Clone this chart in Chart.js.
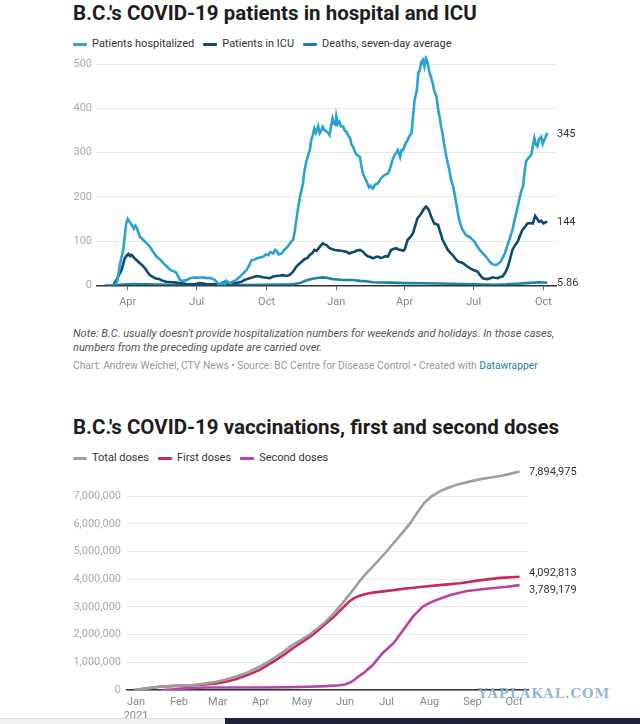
<!DOCTYPE html>
<html>
<head>
<meta charset="utf-8">
<script src="https://cdn.jsdelivr.net/npm/chart.js@4.4.0/dist/chart.umd.min.js"></script>
<style>
  body { margin: 0; background: #fff; font-family: Roboto, sans-serif; }
  #page { position: relative; width: 640px; height: 724px; overflow: hidden; background: #fff; }
  .title { position: absolute; left: 73px; font-weight: 700; font-size: 20.5px; line-height: 24px; color: #1d1d1d; white-space: nowrap; }
  .legend { position: absolute; left: 73px; display: flex; align-items: center; font-size: 11px; line-height: 14px; color: #333; white-space: nowrap; }
  .legend .item { display: flex; align-items: center; margin-right: 9px; }
  .legend i { display: inline-block; width: 14px; height: 3px; margin-right: 5px; border-radius: 1px; }
  canvas { position: absolute; left: 0; }
  .note { position: absolute; left: 73px; top: 327px; font-size: 11px; letter-spacing: 0.01px; line-height: 14px; font-style: italic; color: #555; white-space: nowrap; }
  .credit { position: absolute; left: 73px; top: 359px; font-size: 10.3px; line-height: 14px; color: #999; white-space: nowrap; }
  .credit span { color: #1d81a2; }
  .wm { position: absolute; left: 478px; top: 685px; font-family: "DejaVu Serif", serif; font-weight: 700; font-size: 13.5px; letter-spacing: 0.8px; color: rgba(140,175,205,0.9); }
  .bar-grey { position: absolute; left: 0; top: 718px; width: 225px; height: 6px; background: #f0f0f0; border-top: 1px solid #dcdcdc; }
  .bar-navy { position: absolute; left: 225px; top: 718px; width: 415px; height: 7px; background: #1c2237; }
</style>
</head>
<body>
<div id="page">
  <div class="title" style="top:1px">B.C.'s COVID-19 patients in hospital and ICU</div>
  <div class="legend" id="legend1" style="top:37px"></div>
  <canvas id="hospChart" width="640" height="270" style="top:50px"></canvas>
  <div class="note">Note: B.C. usually doesn't provide hospitalization numbers for weekends and holidays. In those cases,<br>numbers from the preceding update are carried over.</div>
  <div class="credit">Chart: Andrew Weichel, CTV News • Source: BC Centre for Disease Control • Created with <span>Datawrapper</span></div>

  <div class="title" style="top:415px">B.C.'s COVID-19 vaccinations, first and second doses</div>
  <div class="legend" id="legend2" style="top:451px"></div>
  <canvas id="vaxChart" width="640" height="262" style="top:462px"></canvas>
  <div class="wm">YAPLAKAL.COM</div>
  <div class="bar-grey"></div>
  <div class="bar-navy"></div>
</div>
<script>
// chart 1: days counted from 2020-03-01
const hospTickDays = [31, 122, 214, 306, 396, 487, 579];
const hospTickLabels = ['Apr', 'Jul', 'Oct', 'Jan', 'Apr', 'Jul', 'Oct'];
const hospYTicks = [0, 100, 200, 300, 400, 500];

const hospitalized = [[1,0],[14,0],[17,8],[21,50],[25,80],[29,140],[31,150],[34,142],[36,137],[39,128],[41,135],[43,130],[47,110],[52,102],[56,95],[59,90],[63,80],[66,72],[69,65],[74,58],[78,50],[83,42],[87,35],[91,32],[95,29],[98,18],[100,12],[104,10],[109,12],[113,16],[117,17],[122,18],[126,17],[131,18],[135,16],[139,17],[142,15],[146,12],[148,8],[152,1],[155,4],[157,5],[159,2],[161,10],[164,6],[166,5],[170,9],[174,12],[178,18],[181,23],[185,30],[188,35],[191,45],[194,57],[198,58],[201,61],[205,63],[210,65],[213,70],[216,68],[219,75],[223,72],[225,80],[227,78],[230,70],[234,72],[237,80],[240,84],[243,90],[245,95],[247,100],[249,103],[251,120],[253,144],[256,180],[258,200],[260,215],[262,231],[264,260],[267,284],[269,296],[271,306],[273,329],[275,340],[277,355],[279,345],[282,360],[284,344],[286,350],[288,359],[290,352],[293,348],[295,345],[297,340],[299,360],[301,378],[303,365],[305,363],[306,382],[308,365],[310,370],[312,360],[315,359],[317,350],[319,348],[322,338],[324,333],[326,318],[328,314],[331,300],[333,295],[337,291],[339,270],[341,253],[343,245],[346,235],[349,222],[351,225],[354,219],[357,228],[361,231],[364,240],[367,246],[370,250],[374,253],[377,265],[380,284],[383,295],[385,300],[387,306],[390,290],[392,306],[394,306],[397,320],[400,329],[403,340],[405,344],[407,380],[409,419],[412,440],[414,480],[416,487],[418,505],[420,510],[422,495],[424,514],[426,505],[429,480],[431,470],[433,457],[435,440],[438,427],[440,400],[442,382],[444,360],[446,344],[448,320],[451,291],[453,275],[455,261],[457,240],[460,223],[462,205],[464,186],[466,165],[468,148],[471,130],[475,118],[478,112],[481,110],[485,104],[488,99],[491,90],[495,80],[499,72],[503,65],[507,56],[510,50],[513,47],[517,46],[520,50],[523,54],[525,62],[528,72],[531,88],[534,103],[538,125],[541,148],[544,170],[547,193],[550,215],[552,223],[554,255],[556,280],[559,288],[563,295],[565,315],[567,333],[569,318],[571,314],[573,330],[576,336],[578,320],[580,329],[582,336],[584,345]];

const icu = [[1,0],[12,0],[16,12],[23,35],[27,61],[30,68],[32,71],[34,66],[36,69],[40,61],[44,55],[47,50],[51,44],[54,38],[57,30],[60,23],[64,19],[67,16],[73,14],[77,10],[82,8],[91,7],[100,5],[109,3],[117,2],[126,5],[135,3],[144,2],[152,2],[156,6],[159,8],[163,4],[166,5],[174,5],[178,7],[181,8],[185,12],[188,14],[194,17],[201,21],[205,20],[209,18],[214,17],[218,16],[223,20],[227,21],[232,22],[236,23],[240,21],[244,23],[247,27],[249,31],[253,42],[258,50],[264,59],[268,62],[271,69],[274,72],[277,80],[280,78],[284,87],[288,95],[291,92],[293,91],[297,84],[300,82],[304,80],[308,79],[312,78],[316,77],[319,76],[323,72],[326,74],[330,76],[333,79],[337,80],[341,76],[344,70],[348,65],[351,64],[354,61],[358,64],[361,65],[364,62],[367,63],[371,66],[374,65],[378,80],[381,82],[385,84],[388,81],[391,80],[394,78],[396,81],[400,103],[404,110],[407,118],[410,135],[413,152],[416,158],[418,163],[421,172],[424,178],[426,175],[428,170],[431,155],[435,140],[438,138],[440,137],[443,120],[446,103],[450,90],[453,80],[456,74],[459,69],[463,60],[466,54],[470,52],[473,50],[476,46],[479,42],[483,38],[486,35],[489,33],[492,31],[496,22],[499,16],[502,15],[505,14],[509,16],[512,18],[515,17],[519,16],[522,19],[525,20],[529,30],[532,42],[535,60],[538,80],[542,92],[545,99],[548,112],[551,125],[555,133],[558,140],[562,141],[565,140],[568,157],[571,150],[573,144],[576,146],[579,140],[581,142],[584,144]];

const deaths = [[1,0],[14,0],[18,0.5],[24,1.5],[30,2.5],[40,3],[56,2],[70,1.5],[87,1],[110,0.5],[150,0.5],[180,0.7],[210,1],[230,1.5],[245,2],[249,2.5],[258,5],[266,11],[275,15],[283,17],[288,18],[293,17],[301,14],[308,13],[315,12],[328,12],[337,10],[345,9],[354,7],[376,6],[398,5],[420,4.5],[442,4],[470,3],[486,2],[500,1.5],[516,1.2],[530,2],[545,3.5],[556,5],[566,6],[573,7],[580,6.5],[584,5.86]];

// chart 2: days counted from 2021-01-01
const vaxTickDays = [0, 31, 59, 90, 120, 151, 181, 212, 243, 273];
const vaxTickLabels = [['Jan', '2021'], 'Feb', 'Mar', 'Apr', 'May', 'Jun', 'Jul', 'Aug', 'Sep', 'Oct'];
const vaxYTicks = [0, 1000000, 2000000, 3000000, 4000000, 5000000, 6000000, 7000000];

const totalDoses = [[-1,0],[8,60000],[17,120000],[28,150000],[41,180000],[50,230000],[58,300000],[65,380000],[72,480000],[80,620000],[89,840000],[95,1000000],[101,1200000],[107,1400000],[113,1630000],[119,1800000],[125,1990000],[131,2220000],[137,2470000],[143,2780000],[149,3130000],[155,3500000],[161,3900000],[166,4200000],[171,4460000],[180,4950000],[188,5420000],[193,5720000],[198,6020000],[203,6400000],[208,6750000],[213,6980000],[219,7170000],[225,7300000],[231,7410000],[240,7520000],[248,7610000],[255,7670000],[263,7730000],[270,7810000],[277,7894975]];

const firstDoses = [[-1,0],[8,60000],[17,120000],[28,150000],[41,170000],[50,200000],[58,240000],[65,300000],[72,390000],[80,530000],[89,720000],[95,900000],[101,1080000],[107,1280000],[113,1500000],[119,1700000],[125,1900000],[131,2130000],[137,2390000],[143,2650000],[149,2950000],[154,3200000],[157,3300000],[161,3400000],[166,3470000],[171,3520000],[183,3590000],[195,3670000],[207,3730000],[219,3790000],[234,3860000],[248,3960000],[263,4050000],[277,4092813]];

const secondDoses = [[19,0],[25,20000],[35,60000],[45,80000],[53,90000],[70,90000],[89,90000],[110,100000],[125,120000],[137,140000],[147,170000],[151,200000],[155,280000],[158,380000],[161,500000],[164,600000],[171,900000],[178,1330000],[186,1690000],[193,2170000],[200,2650000],[207,3010000],[212,3150000],[217,3250000],[227,3430000],[239,3580000],[253,3660000],[268,3730000],[277,3789179]];

Chart.defaults.font.family = 'Roboto, sans-serif';
Chart.defaults.font.size = 11;
Chart.defaults.animation = false;

const toPoints = arr => arr.map(([x, y]) => ({ x: x, y: y }));

// value labels at the end of each line, pushed apart when they collide
const endLabels = {
    id: 'endLabels',
    afterDatasetsDraw(chart, args, opts) {
        const { ctx, chartArea } = chart;
        const items = chart.data.datasets.map(ds => {
            const last = ds.data[ds.data.length - 1];
            return { y: chart.scales.y.getPixelForValue(last.y), text: last.y.toLocaleString('en-US') };
        }).sort((a, b) => a.y - b.y);
        for (let k = 0; k < 5; k++) {
            for (let i = 1; i < items.length; i++) {
                const gap = items[i].y - items[i - 1].y;
                if (gap < opts.gap) {
                    const d = (opts.gap - gap) / 2;
                    items[i].y += d;
                    items[i - 1].y -= d;
                }
            }
        }
        ctx.save();
        ctx.font = '11px Roboto, sans-serif';
        ctx.fillStyle = '#333';
        ctx.textBaseline = 'middle';
        items.forEach(it => ctx.fillText(it.text, chartArea.right + 1, it.y + 1));
        ctx.restore();
    }
};

function buildLegend(id, chart) {
    const el = document.getElementById(id);
    chart.data.datasets.forEach(ds => {
        const item = document.createElement('span');
        item.className = 'item';
        const mark = document.createElement('i');
        mark.style.background = ds.borderColor;
        item.appendChild(mark);
        item.appendChild(document.createTextNode(ds.label));
        el.appendChild(item);
    });
}

function noPad(s) { s.paddingTop = 0; s.paddingBottom = 0; s.paddingLeft = 0; s.paddingRight = 0; }

const lineStyle = { borderWidth: 2.6, pointRadius: 0, tension: 0, fill: false };

const hospChart = new Chart(document.getElementById('hospChart').getContext('2d'), {
    type: 'line',
    data: {
        datasets: [
            Object.assign({ label: 'Patients hospitalized', data: toPoints(hospitalized), borderColor: '#2aa2cf' }, lineStyle),
            Object.assign({ label: 'Patients in ICU', data: toPoints(icu), borderColor: '#0d4a6d' }, lineStyle),
            Object.assign({ label: 'Deaths, seven-day average', data: toPoints(deaths), borderColor: '#1c80ae' }, lineStyle)
        ]
    },
    options: {
        responsive: false,
        layout: { padding: { left: 63, right: 84, top: 5.5, bottom: 0 } },
        plugins: { legend: { display: false }, tooltip: { enabled: false }, endLabels: { gap: 14 } },
        scales: {
            x: {
                type: 'linear', min: -9.5, max: 595.5,
                afterBuildTicks: s => { s.ticks = hospTickDays.map(v => ({ value: v })); },
                afterFit: s => { s.height = 34.7; noPad(s); },
                ticks: { callback: (v, i) => hospTickLabels[i], color: '#888', padding: 5, maxRotation: 0, autoSkip: false },
                grid: { drawOnChartArea: false, drawTicks: true, tickLength: 5, color: '#666' },
                border: { display: true, color: '#333', width: 1.5 }
            },
            y: {
                min: 0, max: 520,
                afterBuildTicks: s => { s.ticks = hospYTicks.map(v => ({ value: v })); },
                afterFit: s => { s.width = 34; noPad(s); },
                ticks: { color: '#aaa', padding: 5 },
                grid: { color: '#e6e6e6', drawTicks: false },
                border: { display: false }
            }
        }
    },
    plugins: [endLabels]
});
buildLegend('legend1', hospChart);

const vaxChart = new Chart(document.getElementById('vaxChart').getContext('2d'), {
    type: 'line',
    data: {
        datasets: [
            Object.assign({ label: 'Total doses', data: toPoints(totalDoses), borderColor: '#9e9e9e' }, lineStyle),
            Object.assign({ label: 'First doses', data: toPoints(firstDoses), borderColor: '#c7285f' }, lineStyle),
            Object.assign({ label: 'Second doses', data: toPoints(secondDoses), borderColor: '#b942a8' }, lineStyle)
        ]
    },
    options: {
        responsive: false,
        layout: { padding: { left: 62, right: 112, top: 6.6, bottom: 0 } },
        plugins: { legend: { display: false }, tooltip: { enabled: false }, endLabels: { gap: 17 } },
        scales: {
            x: {
                type: 'linear', min: -6.5, max: 283.1,
                afterBuildTicks: s => { s.ticks = vaxTickDays.map(v => ({ value: v })); },
                afterFit: s => { s.height = 34; noPad(s); },
                ticks: { callback: (v, i) => vaxTickLabels[i], color: '#888', padding: 6, maxRotation: 0, autoSkip: false },
                grid: { display: false, drawTicks: false },
                border: { display: true, color: '#333', width: 1.5 }
            },
            y: {
                min: 0, max: 8000000,
                afterBuildTicks: s => { s.ticks = vaxYTicks.map(v => ({ value: v })); },
                afterFit: s => { s.width = 65; noPad(s); },
                ticks: { color: '#aaa', padding: 6, callback: v => v.toLocaleString('en-US') },
                grid: { color: '#e8e8e8', drawTicks: false },
                border: { display: false }
            }
        }
    },
    plugins: [endLabels]
});
buildLegend('legend2', vaxChart);
</script>
</body>
</html>
